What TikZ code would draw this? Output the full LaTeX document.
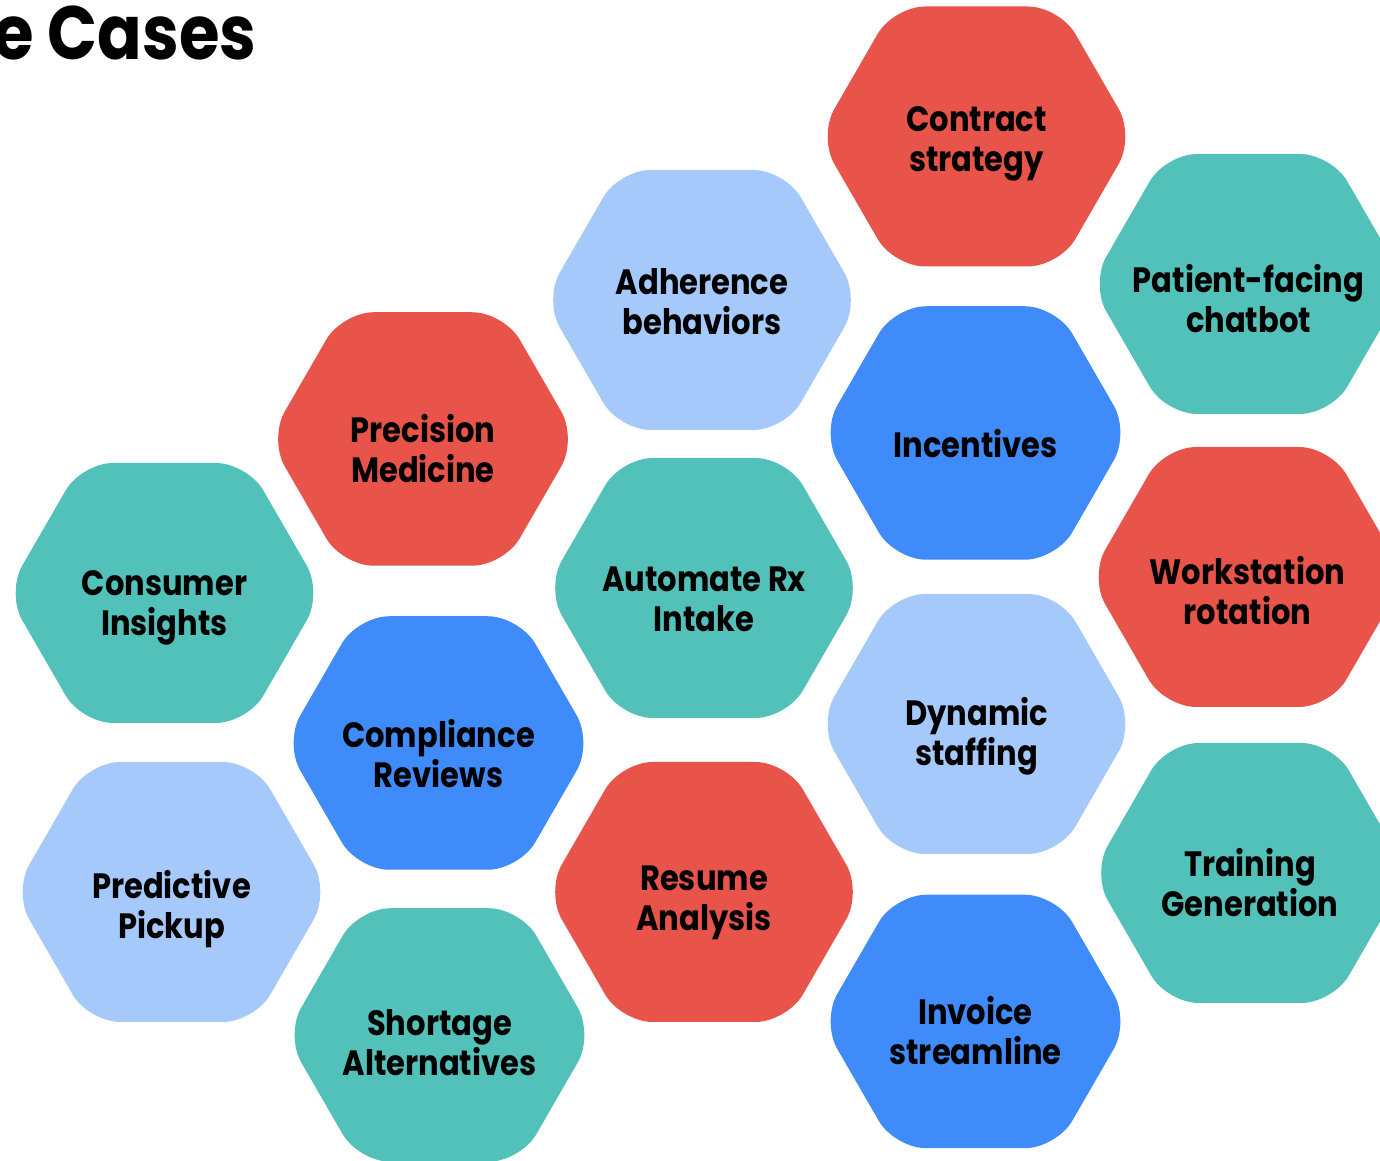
\documentclass[tikz,border=0pt]{standalone}
\usepackage{fontspec}
\setmainfont{Poppins}[FakeStretch=0.87]
\definecolor{hexred}{RGB}{232,83,74}
\definecolor{hexteal}{RGB}{82,193,185}
\definecolor{hexsky}{RGB}{166,201,252}
\definecolor{hexblue}{RGB}{63,139,249}
\begin{document}
\begin{tikzpicture}[hexcell/.style={rounded corners=9pt},
  hexlabel/.style={align=center,inner sep=0pt,text depth=0pt,font=\bfseries\fontsize{10}{11.4}\selectfont}]
\useasboundingbox(0,0)rectangle(13.8,11.61);
\clip(0,0)rectangle(13.8,11.61);
\node[anchor=base east,inner sep=0pt,font=\bfseries\fontsize{21.5}{24}\selectfont](title)at(2.57,11.01){e Cases};
% x/y/size/colour/label y/name/text
\foreach \hx/\hy/\sz/\col/\ty/\nm/\lbl in {
  9.765/10.245/1/hexred/10.215/contract/{Contract\\strategy},
  12.485/8.77/1/hexteal/8.625/chatbot/{Patient-facing\\chatbot},
  7.02/8.61/1/hexsky/8.595/adherence/{Adherence\\behaviors},
  9.755/7.28/0.975/hexblue/7.18/incentives/{Incentives},
  4.23/7.22/0.975/hexred/7.125/precision/{Precision\\Medicine},
  12.475/5.84/1/hexred/5.705/workstation/{Workstation\\rotation},
  1.645/5.68/1/hexteal/5.575/consumer/{Consumer\\Insights},
  7.04/5.73/1/hexteal/5.615/automate/{Automate Rx\\Intake},
  9.765/4.37/1/hexsky/4.295/dynamic/{Dynamic\\staffing},
  4.385/4.18/0.975/hexblue/4.08/compliance/{Compliance\\Reviews},
  12.50/2.88/1/hexteal/2.785/training/{Training\\Generation},
  1.715/2.69/1/hexsky/2.57/predictive/{Predictive\\Pickup},
  7.04/2.69/1/hexred/2.63/resume/{Resume\\Analysis},
  9.755/1.395/0.975/hexblue/1.305/invoice/{Invoice\\streamline},
  4.395/1.26/0.975/hexteal/1.185/shortage/{Shortage\\Alternatives}}{
\fill[hexcell,\col](\hx,\hy)++(0,1.3*\sz)--++(0.83*\sz,0)--++(-60:1.501*\sz)--++(-120:1.501*\sz)
  --++(-1.66*\sz,0)--++(120:1.501*\sz)--++(60:1.501*\sz)--cycle;
\node[hexlabel](\nm)at(\hx,\ty){\lbl};
}
\end{tikzpicture}
\end{document}
